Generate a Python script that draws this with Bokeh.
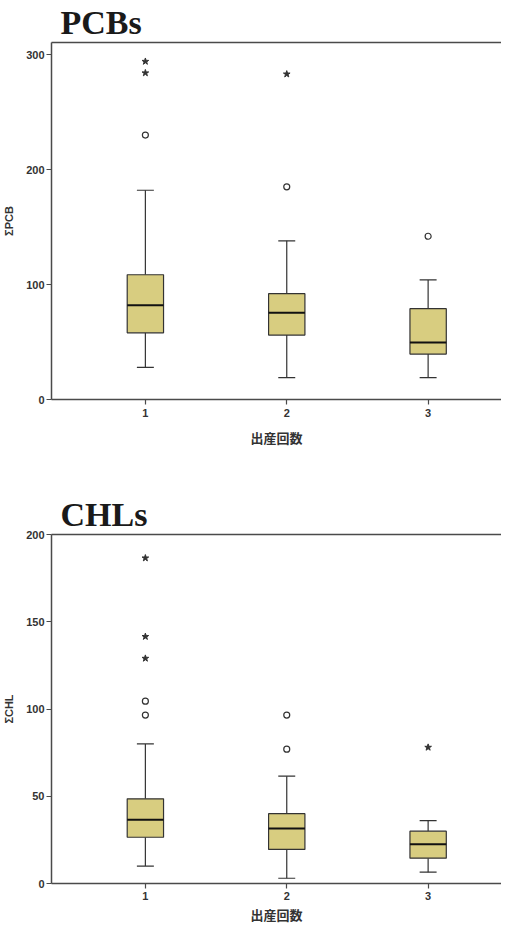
from bokeh.plotting import figure
from bokeh.models import ColumnDataSource, Range1d, FixedTicker, LinearAxis
from bokeh.layouts import column
from bokeh.embed import file_html
from bokeh.resources import INLINE

# ---- data ----
groups = [1, 2, 3]
x_label = "出産回数"

# PCBs
pcb_lower = [28, 19, 19]
pcb_q1 = [58, 56, 39.5]
pcb_median = [82, 75.5, 49.5]
pcb_q3 = [108.5, 92, 79]
pcb_upper = [182, 138, 104]
pcb_circle_x = [1, 2, 3]
pcb_circle_y = [230, 185, 142]
pcb_star_x = [1, 1, 2]
pcb_star_y = [294, 284, 283]
pcb_yticks = [0, 100, 200, 300]

# CHLs
chl_lower = [10, 3, 6.5]
chl_q1 = [26.5, 19.5, 14.5]
chl_median = [36.5, 31.5, 22.5]
chl_q3 = [48.5, 40, 30]
chl_upper = [80, 61.5, 36]
chl_circle_x = [1, 1, 2, 2]
chl_circle_y = [104.5, 96.5, 96.5, 77]
chl_star_x = [1, 1, 1, 3]
chl_star_y = [186.5, 141.5, 129, 78]
chl_yticks = [0, 50, 100, 150, 200]

FILL = "#d8cd80"
DARK = "#333333"
AXIS = "#4a4a4a"


def make_chart(title, ylabel, lower, q1, med, q3, upper, cx, cy, sx, sy,
               yticks, ymax, frame_h, border_top, border_bottom,
               xlabel_standoff, xtick_standoff):
    box_w = 0.257
    cap_w = 0.12
    src = ColumnDataSource(dict(
        x=groups, lower=lower, q1=q1, med=med, q3=q3, upper=upper,
        bx0=[g - box_w / 2 for g in groups], bx1=[g + box_w / 2 for g in groups],
        cx0=[g - cap_w / 2 for g in groups], cx1=[g + cap_w / 2 for g in groups],
    ))
    p = figure(width=501, frame_height=frame_h, output_backend="svg",
               toolbar_location=None,
               x_range=Range1d(0.336, 3.519), y_range=Range1d(0, ymax),
               min_border_left=49, min_border_right=0,
               min_border_top=border_top, min_border_bottom=border_bottom)
    p.title.text = title
    p.title.text_font = "Liberation Serif"
    p.title.text_font_style = "bold"
    p.title.text_font_size = "34px"
    p.title.text_color = "#1a1a1a"
    p.title.offset = 9
    p.title.standoff = 3

    p.grid.visible = False
    p.outline_line_color = None
    p.background_fill_color = "white"

    # whiskers
    p.segment(x0="x", y0="q3", x1="x", y1="upper", source=src, line_color=DARK, line_width=1.2)
    p.segment(x0="x", y0="lower", x1="x", y1="q1", source=src, line_color=DARK, line_width=1.2)
    p.segment(x0="cx0", y0="upper", x1="cx1", y1="upper", source=src, line_color=DARK, line_width=1.2)
    p.segment(x0="cx0", y0="lower", x1="cx1", y1="lower", source=src, line_color=DARK, line_width=1.2)
    # boxes
    p.quad(left="bx0", right="bx1", bottom="q1", top="q3", source=src,
           fill_color=FILL, line_color=DARK, line_width=1.2)
    p.segment(x0="bx0", y0="med", x1="bx1", y1="med", source=src, line_color="#111111", line_width=2)
    # outliers
    p.scatter(cx, cy, marker="circle", size=6, fill_color="white", line_color=DARK, line_width=1.2)
    p.scatter(sx, sy, marker="star", size=7, fill_color=DARK, line_color=DARK)

    # axes
    for ax in (p.xaxis[0], p.yaxis[0]):
        ax.axis_line_color = AXIS
        ax.axis_line_width = 1.5
        ax.major_tick_line_color = AXIS
        ax.major_tick_line_width = 1.2
        ax.major_tick_out = 5
        ax.major_tick_in = 0
        ax.minor_tick_line_color = None
        ax.major_label_text_font = "Liberation Sans"
        ax.major_label_text_font_style = "bold"
        ax.major_label_text_font_size = "11px"
        ax.major_label_text_color = "#333333"
        ax.axis_label_text_font_style = "bold"
        ax.axis_label_text_color = "#333333"
    p.xaxis.ticker = FixedTicker(ticks=groups)
    p.yaxis.ticker = FixedTicker(ticks=yticks)
    p.yaxis.major_label_standoff = 2
    p.xaxis.major_label_standoff = xtick_standoff
    p.yaxis.axis_label = ylabel
    p.yaxis.axis_label_text_font = "Liberation Sans"
    p.yaxis.axis_label_text_font_size = "11px"
    p.yaxis.axis_label_standoff = 8
    p.xaxis.axis_label = x_label
    p.xaxis.axis_label_text_font = "Noto Sans CJK JP"
    p.xaxis.axis_label_text_font_size = "13px"
    p.xaxis.axis_label_standoff = xlabel_standoff

    top = LinearAxis(ticker=FixedTicker(ticks=[]), major_label_text_font_size="0px",
                     axis_line_color=AXIS, axis_line_width=1.5,
                     major_tick_line_color=None, minor_tick_line_color=None)
    p.add_layout(top, "above")
    return p


p1 = make_chart("PCBs", "ΣPCB", pcb_lower, pcb_q1, pcb_median, pcb_q3, pcb_upper,
                pcb_circle_x, pcb_circle_y, pcb_star_x, pcb_star_y,
                pcb_yticks, 310.5, 357, 0, 93, 8, 4)
p2 = make_chart("CHLs", "ΣCHL", chl_lower, chl_q1, chl_median, chl_q3, chl_upper,
                chl_circle_x, chl_circle_y, chl_star_x, chl_star_y,
                chl_yticks, 200, 349, 0, 0, 2, 3)

layout = column(p1, p2, spacing=0)
open("out.html", "w").write(file_html(layout, INLINE))
